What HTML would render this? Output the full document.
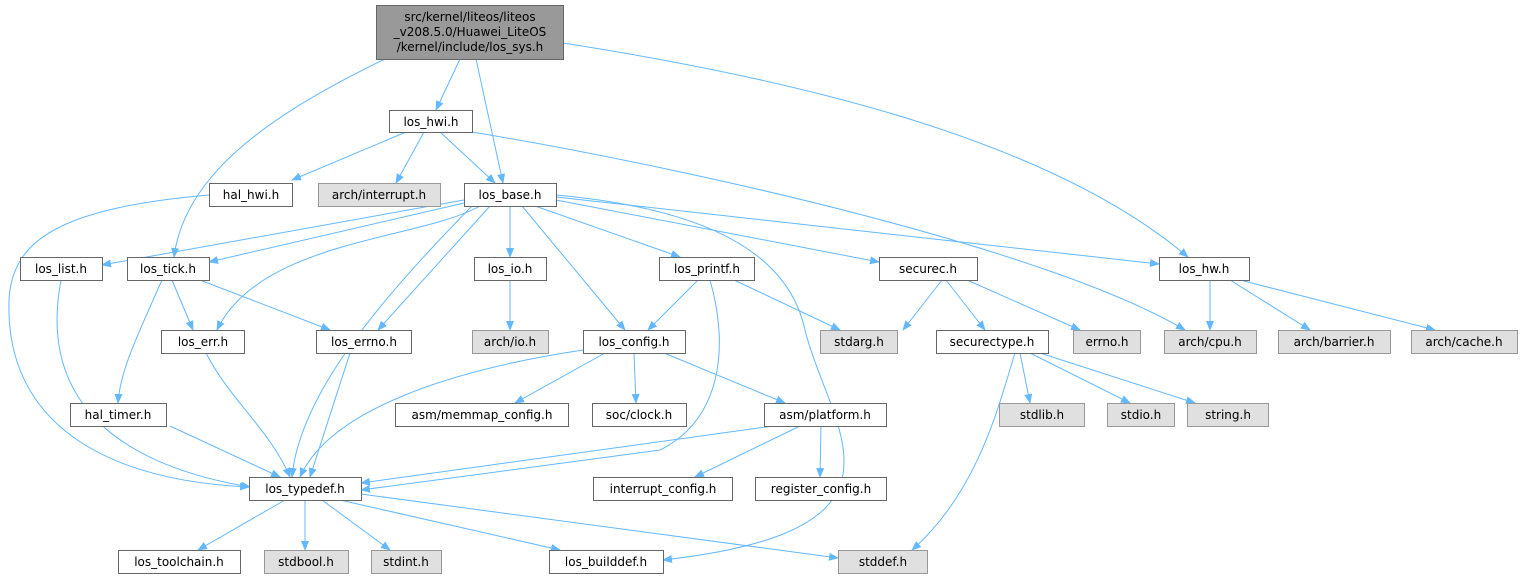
<!DOCTYPE html>
<html><head><meta charset="utf-8"><style>
html,body{margin:0;padding:0;background:#fff;width:1522px;height:579px;overflow:hidden}
svg text{font-family:"DejaVu Sans","Liberation Sans",sans-serif;font-size:12px;fill:#000}
</style></head><body>
<svg width="1522" height="579" viewBox="0 0 1522 579" xmlns="http://www.w3.org/2000/svg">
<defs><marker id="a" markerWidth="10" markerHeight="8" refX="9" refY="4" orient="auto" markerUnits="userSpaceOnUse"><path d="M0,0L10,4L0,8z" fill="#63b8ff"/></marker></defs>
<g fill="none" stroke="#63b8ff" stroke-width="1" marker-end="url(#a)">
<path d="M460,59L436,110"/>
<path d="M385,59C280,110 185,170 174,257"/>
<path d="M476,59L503,183"/>
<path d="M563,43C800,80 1050,140 1188,257"/>
<path d="M424,132L396,183"/>
<path d="M406,132L292,180"/>
<path d="M440,132L495,183"/>
<path d="M472,132C700,170 1050,250 1185,330"/>
<path d="M464,200L102,265"/>
<path d="M464,203L209,262"/>
<path d="M480,206C420,240 260,240 217,330"/>
<path d="M490,206L378,330"/>
<path d="M472,206C390,290 300,390 292,477"/>
<path d="M510,206L510,257"/>
<path d="M522,206L625,330"/>
<path d="M535,206L680,257"/>
<path d="M556,200L879,262"/>
<path d="M556,197L1159,264"/>
<path d="M556,195C720,210 790,260 805,330C830,430 930,530 663,560"/>
<path d="M209,195C60,208 12,240 9,300C5,420 100,480 249,487"/>
<path d="M61,280C42,380 90,460 250,487"/>
<path d="M172,280L193,330"/>
<path d="M200,280L330,330"/>
<path d="M162,280C140,330 120,370 118,403"/>
<path d="M206,353C230,400 270,430 290,477"/>
<path d="M350,353L310,477"/>
<path d="M510,280L510,330"/>
<path d="M698,280L648,330"/>
<path d="M710,280C730,350 720,420 660,450L361,490"/>
<path d="M734,280L840,330"/>
<path d="M583,350C450,370 330,410 300,477"/>
<path d="M605,353L515,403"/>
<path d="M634,353L636,403"/>
<path d="M664,353L785,403"/>
<path d="M773,426L361,483"/>
<path d="M800,426L695,477"/>
<path d="M821,426L820,477"/>
<path d="M170,426L280,477"/>
<path d="M942,280L903,330"/>
<path d="M946,280L985,330"/>
<path d="M967,280L1080,330"/>
<path d="M1210,280L1210,330"/>
<path d="M1230,280L1310,330"/>
<path d="M1240,280L1435,330"/>
<path d="M1015,353C1000,400 980,490 912,550"/>
<path d="M1020,353L1030,403"/>
<path d="M1030,353L1130,403"/>
<path d="M1040,353L1195,403"/>
<path d="M285,500L198,550"/>
<path d="M305,500L305,550"/>
<path d="M322,500L390,550"/>
<path d="M340,500L560,550"/>
<path d="M361,494L838,558"/>
</g>
<g stroke-width="1">
<rect x="376.5" y="5.5" width="187" height="54" fill="#999" stroke="#666"/>
<text x="470" y="21" text-anchor="middle">src/kernel/liteos/liteos</text>
<text x="470" y="36" text-anchor="middle">_v208.5.0/Huawei_LiteOS</text>
<text x="470" y="51" text-anchor="middle">/kernel/include/los_sys.h</text>
</g>
<g stroke="#666" fill="#fff">
<rect x="389.5" y="110.5" width="83" height="22"/>
<rect x="209.5" y="183.5" width="83" height="23"/>
<rect x="318.5" y="183.5" width="122" height="23" fill="#e0e0e0" stroke="#999"/>
<rect x="464.5" y="183.5" width="92" height="23"/>
<rect x="20.5" y="257.5" width="82" height="23"/>
<rect x="127.5" y="257.5" width="82" height="23"/>
<rect x="474.5" y="257.5" width="72" height="23"/>
<rect x="659.5" y="257.5" width="95" height="23"/>
<rect x="879.5" y="257.5" width="98" height="23"/>
<rect x="1159.5" y="257.5" width="90" height="23"/>
<rect x="161.5" y="330.5" width="83" height="23"/>
<rect x="316.5" y="330.5" width="95" height="23"/>
<rect x="472.5" y="330.5" width="76" height="23" fill="#e0e0e0" stroke="#999"/>
<rect x="583.5" y="330.5" width="102" height="23"/>
<rect x="820.5" y="330.5" width="77" height="23" fill="#e0e0e0" stroke="#999"/>
<rect x="936.5" y="330.5" width="112" height="23"/>
<rect x="1073.5" y="330.5" width="67" height="23" fill="#e0e0e0" stroke="#999"/>
<rect x="1164.5" y="330.5" width="92" height="23" fill="#e0e0e0" stroke="#999"/>
<rect x="1278.5" y="330.5" width="112" height="23" fill="#e0e0e0" stroke="#999"/>
<rect x="1411.5" y="330.5" width="106" height="23" fill="#e0e0e0" stroke="#999"/>
<rect x="70.5" y="403.5" width="96" height="23"/>
<rect x="395.5" y="403.5" width="173" height="23"/>
<rect x="592.5" y="403.5" width="94" height="23"/>
<rect x="764.5" y="403.5" width="122" height="23"/>
<rect x="999.5" y="403.5" width="85" height="23" fill="#e0e0e0" stroke="#999"/>
<rect x="1107.5" y="403.5" width="67" height="23" fill="#e0e0e0" stroke="#999"/>
<rect x="1187.5" y="403.5" width="81" height="23" fill="#e0e0e0" stroke="#999"/>
<rect x="249.5" y="477.5" width="112" height="23"/>
<rect x="593.5" y="477.5" width="139" height="23"/>
<rect x="755.5" y="477.5" width="131" height="23"/>
<rect x="118.5" y="550.5" width="122" height="23"/>
<rect x="264.5" y="550.5" width="84" height="23" fill="#e0e0e0" stroke="#999"/>
<rect x="371.5" y="550.5" width="70" height="23" fill="#e0e0e0" stroke="#999"/>
<rect x="549.5" y="550.5" width="114" height="23"/>
<rect x="838.5" y="550.5" width="89" height="23" fill="#e0e0e0" stroke="#999"/>
</g>
<g text-anchor="middle">
<text x="431" y="126">los_hwi.h</text>
<text x="251" y="199">hal_hwi.h</text>
<text x="379" y="199">arch/interrupt.h</text>
<text x="510" y="199">los_base.h</text>
<text x="61" y="273">los_list.h</text>
<text x="168" y="273">los_tick.h</text>
<text x="510" y="273">los_io.h</text>
<text x="707" y="273">los_printf.h</text>
<text x="928" y="273">securec.h</text>
<text x="1204" y="273">los_hw.h</text>
<text x="203" y="346">los_err.h</text>
<text x="364" y="346">los_errno.h</text>
<text x="510" y="346">arch/io.h</text>
<text x="634" y="346">los_config.h</text>
<text x="859" y="346">stdarg.h</text>
<text x="992" y="346">securectype.h</text>
<text x="1107" y="346">errno.h</text>
<text x="1210" y="346">arch/cpu.h</text>
<text x="1334" y="346">arch/barrier.h</text>
<text x="1464" y="346">arch/cache.h</text>
<text x="118" y="419">hal_timer.h</text>
<text x="482" y="419">asm/memmap_config.h</text>
<text x="639" y="419">soc/clock.h</text>
<text x="825" y="419">asm/platform.h</text>
<text x="1042" y="419">stdlib.h</text>
<text x="1141" y="419">stdio.h</text>
<text x="1228" y="419">string.h</text>
<text x="305" y="493">los_typedef.h</text>
<text x="663" y="493">interrupt_config.h</text>
<text x="821" y="493">register_config.h</text>
<text x="179" y="566">los_toolchain.h</text>
<text x="306" y="566">stdbool.h</text>
<text x="406" y="566">stdint.h</text>
<text x="606" y="566">los_builddef.h</text>
<text x="883" y="566">stddef.h</text>
</g>
</svg>
</body></html>
